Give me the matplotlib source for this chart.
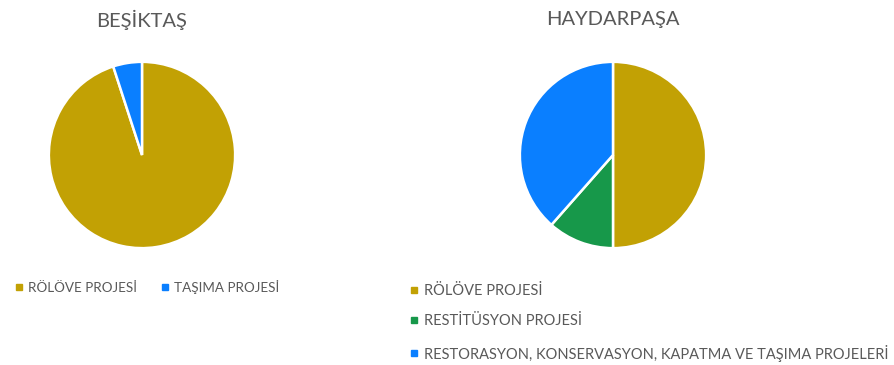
import matplotlib
matplotlib.use("Agg")
import matplotlib.pyplot as plt
from matplotlib.lines import Line2D

plt.rcParams['font.family'] = ['Lato', 'DejaVu Sans']

W, H = 894, 365

# Data
titles = ["BEŞİKTAŞ", "HAYDARPAŞA"]
besiktas_labels = ["RÖLÖVE PROJESİ", "TAŞIMA PROJESİ"]
besiktas_values = [95, 5]
haydarpasa_labels = ["RÖLÖVE PROJESİ", "RESTİTÜSYON PROJESİ",
                     "RESTORASYON, KONSERVASYON, KAPATMA VE TAŞIMA PROJELERİ"]
haydarpasa_values = [50, 11.5, 38.5]

OLIVE = "#C2A104"
BLUE = "#0A7FFF"
GREEN = "#17984A"
TEXT = "#595959"

besiktas_colors = [OLIVE, BLUE]
haydarpasa_colors = [OLIVE, GREEN, BLUE]

fig = plt.figure(figsize=(W / 100, H / 100), dpi=100)
fig.patch.set_facecolor("white")


def px_axes(cx, cy, r):
    return fig.add_axes([(cx - r) / W, (H - cy - r) / H, 2 * r / W, 2 * r / H])


def draw_pie(ax, values, colors):
    ax.pie(values, colors=colors, startangle=90, counterclock=False,
           radius=1.0, wedgeprops=dict(edgecolor="white", linewidth=1.8))
    ax.set_xlim(-1.02, 1.02)
    ax.set_ylim(-1.02, 1.02)
    ax.set_aspect("equal")
    ax.axis("off")


ax1 = px_axes(142, 155, 95)
draw_pie(ax1, besiktas_values, besiktas_colors)
ax2 = px_axes(613, 155, 95)
draw_pie(ax2, haydarpasa_values, haydarpasa_colors)

fig.text(142 / W, 1 - 20 / H, titles[0], ha="center", va="center",
         fontsize=14.5, color=TEXT)
fig.text(613 / W, 1 - 20 / H, titles[1], ha="center", va="center",
         fontsize=14.5, color=TEXT)


def handles(colors):
    return [Line2D([], [], marker="s", linestyle="none", markersize=4.5,
                   markerfacecolor=c, markeredgecolor=c) for c in colors]


leg1 = fig.legend(handles(besiktas_colors), besiktas_labels, ncol=2,
                  loc="center left", bbox_to_anchor=(10 / W, 1 - 287 / H),
                  frameon=False, fontsize=9.7, handlelength=0.55,
                  handletextpad=0.35, columnspacing=1.85, borderaxespad=0,
                  labelcolor=TEXT)

leg2 = fig.legend(handles(haydarpasa_colors), haydarpasa_labels, ncol=1,
                  loc="upper left", bbox_to_anchor=(404 / W, 1 - 278 / H),
                  frameon=False, fontsize=10.5, handlelength=0.55,
                  handletextpad=0.4, labelspacing=1.12, borderaxespad=0,
                  labelcolor=TEXT)

fig.savefig("out.png", dpi=100, facecolor="white")
